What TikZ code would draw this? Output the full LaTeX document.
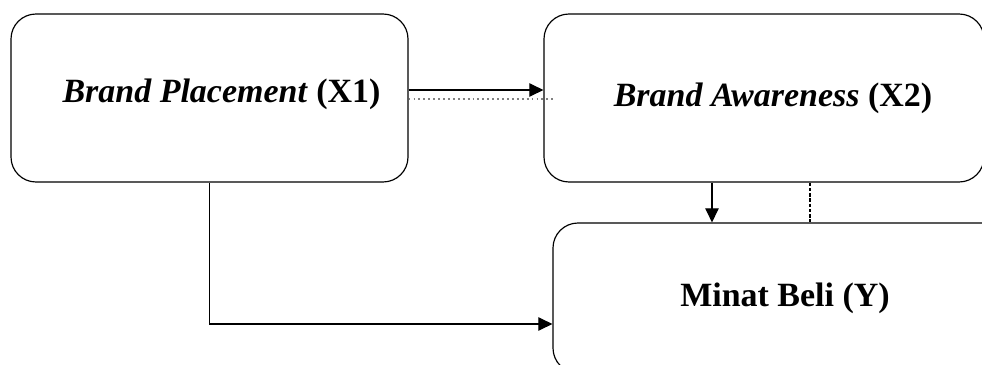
\documentclass[tikz,border=0pt]{standalone}
\usepackage{fontspec}
\setmainfont{Liberation Serif}
\usetikzlibrary{arrows.meta, positioning}

\begin{document}
\begin{tikzpicture}[x=0.03cm, y=-0.03cm,
    var/.style={rectangle, draw, rounded corners=0.75cm, line width=1pt, text centered, inner sep=0pt, font=\fontsize{29}{34}\selectfont\bfseries},
    arrow/.style={-{Triangle[length=0.42cm, width=0.4cm]}, line width=1pt},
    dotline/.style={line width=1.2pt, gray, dash pattern=on 1.6pt off 2.6pt},
    dashline/.style={line width=1pt, dash pattern=on 3pt off 1.5pt}
]

% Background
\useasboundingbox (0,0) rectangle (982,365);
\clip (0,0) rectangle (982,365);
\fill[white] (0,0) rectangle (982,365);

% Brand Placement
\node[var, minimum width=11.91cm, minimum height=5.04cm] (placement) at (209.5, 98) {\hspace*{0.72cm}\raisebox{0.45cm}{\textit{Brand Placement} (X1)}};

% Brand Awareness
\node[var, minimum width=13.2cm, minimum height=5.04cm] (awareness) at (764, 98) {\hspace*{0.54cm}\textit{Brand Awareness} (X2)};

% Minat Beli
\node[var, minimum width=13.92cm, minimum height=4.5cm] (minat) at (785, 298) {Minat Beli (Y)};

% Connections
\draw[arrow] ([yshift=0.24cm]placement.east) -- ([yshift=0.24cm]awareness.west);
\draw[dotline] ([yshift=-0.03cm]placement.east) -- ([xshift=0.3cm, yshift=-0.03cm]awareness.west);
\draw[arrow] ([xshift=-1.56cm]awareness.south) -- ([xshift=-1.56cm]awareness.south |- minat.north);
\draw[dashline] ([xshift=1.38cm]awareness.south) -- ([xshift=1.38cm]awareness.south |- minat.north);
\draw[arrow] (placement.south) |- ([yshift=-0.78cm]minat.west);

\end{tikzpicture}
\end{document}
